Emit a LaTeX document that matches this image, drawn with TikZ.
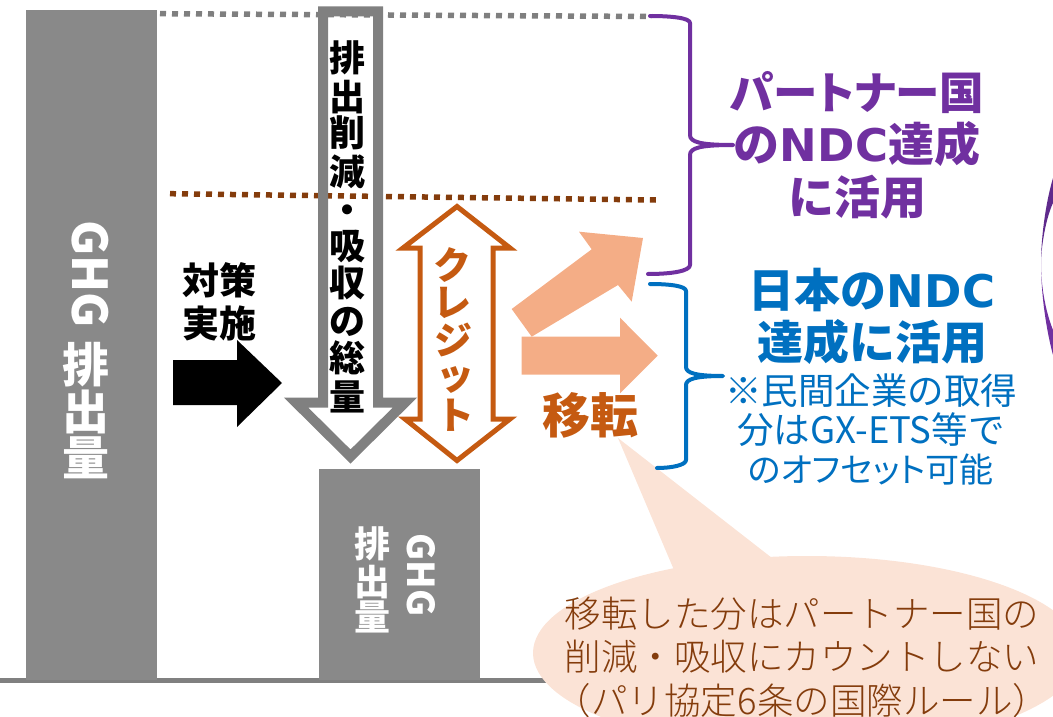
\documentclass[tikz,border=0pt]{standalone}
\usepackage{fontspec}
\setmainfont{Noto Sans CJK JP}
\newfontfamily\lightcjk{Noto Sans CJK JP Light}
\newfontfamily\wide{DejaVu Sans}
\newfontfamily\paltcjk[RawFeature=+palt]{Noto Sans CJK JP}
\definecolor{barg}{HTML}{898989}
\definecolor{arrg}{HTML}{808080}
\definecolor{dotg}{HTML}{7F7F7F}
\definecolor{brn}{HTML}{843C0C}
\definecolor{org}{HTML}{C55A11}
\definecolor{salm}{HTML}{F4AD86}
\definecolor{peach}{HTML}{FBE3D6}
\definecolor{purp}{HTML}{7030A0}
\definecolor{purpd}{HTML}{5F2A8C}
\definecolor{blu}{HTML}{0070C0}
\newcommand{\fs}[1]{\fontsize{#1}{#1}\selectfont}
\newcommand{\ndc}{{\wide\fontsize{45}{52}\selectfont NDC}}
\tikzset{
  x=1pt,y=-1pt,
  lbl/.style={inner sep=0pt,outer sep=0pt,align=center},
  bar/.style={fill=barg,draw=none},
  dots/.style={line width=5.5pt,dash pattern=on 6pt off 6pt},
  brace/.style={line width=4pt,line cap=round,line join=round},
  hollow/.style={line join=miter,miter limit=10},
}
\begin{document}
\begin{tikzpicture}
\useasboundingbox (0,0) rectangle (1053,717);
\clip (0,0) rectangle (1053,717);
% baseline and bars
\fill[arrg] (0,678) rectangle (560,683);
\fill[bar] (26,10) rectangle (157,680);
\fill[bar] (319,469) rectangle (480,680);
% dotted levels
\coordinate (gdA) at (160,13.7);
\coordinate (gdB) at (652,16.5);
\coordinate (bdA) at (170,193.7);
\coordinate (bdB) at (656,200);
\draw[dots,dotg] (gdA) -- (gdB);
\draw[dots,brn] (bdA) -- (bdB);
% reduction arrow
\draw[arrg,line width=10pt,hollow] (323,11.5) -- (323,402.5) -- (296,402.5) -- (350.5,456.5) -- (405,402.5) -- (378,402.5) -- (378,11.5) -- cycle;
% credit arrow
\draw[org,line width=5pt,hollow] (457,206.5) -- (510,248) -- (493,248) -- (493,419) -- (510,419) -- (457,460.5) -- (405,419) -- (420,419) -- (420,248) -- (403,248) -- cycle;
% black arrow
\fill[black] (173,360) -- (237,360) -- (237,340) -- (282,383) -- (237,427) -- (237,405) -- (173,405) -- cycle;
% salmon arrows
\fill[salm] (511.7,309) -- (531.7,336.7) -- (618,285) -- (631.7,301.7) -- (643,238) -- (579,231.7) -- (591.7,249.3) -- cycle;
\fill[salm] (521.7,336.7) -- (620,336.7) -- (620,317.7) -- (657.7,355.7) -- (620,393.3) -- (620,374.7) -- (521.7,374.7) -- cycle;
% callout
\fill[peach] (807,653) ellipse [x radius=274,y radius=97];
\fill[peach] (618,438) -- (674,570) -- (772,558) -- cycle;
% braces
\draw[brace,purp] (650,16) .. controls (672,16) and (690,18) .. (690,23) -- (690,135) .. controls (690,142) and (700,145) .. (733,145) .. controls (700,145) and (690,148) .. (690,155) -- (690,265) .. controls (690,271) and (672,274) .. (648,274);
\draw[brace,blu] (650,284) .. controls (670,284) and (686,286) .. (686,291) -- (686,367) .. controls (686,373) and (696,376) .. (723,376) .. controls (696,376) and (686,379) .. (686,385) -- (686,460) .. controls (686,465) and (672,468) .. (657,468);
% crescent
\fill[purpd] (1053,178) .. controls (1045,205) and (1041,240) .. (1041,263) .. controls (1041,250) and (1045,220) .. (1053,203) -- cycle;
\fill[purp] (1053,355) .. controls (1045,325) and (1041,290) .. (1041,263) .. controls (1041,285) and (1045,310) .. (1053,330) -- cycle;
% left bar label
\node[lbl,rotate=-90,text=white,font=\fs{48}\bfseries] (ghgA) at (90,274) {GHG};
\foreach \c/\y/\n in {排/365/a,出/412/b,量/458/c}
  \node[lbl,text=white,font=\fs{47}\bfseries] (left\n) at (86,\y) {\c};
% lower bar label
\node[lbl,rotate=-90,text=white,font=\fs{37}\bfseries] (ghgB) at (421,575) {GHG};
\foreach \c/\y/\n in {排/544/a,出/582/b,量/617/c}
  \node[lbl,text=white,font=\fs{36}\bfseries] (low\n) at (372.7,\y) {\c};
% reduction stack
\foreach \c/\y/\n in {排/58/a,出/97/b,削/133/c,減/172/d,・/214/e,吸/247/f,収/283/g,の/322/h,総/358/i,量/397/j}
  \node[lbl,font=\fs{36}\bfseries] (red\n) at (347,\y) {\c};
% credit stack
\foreach \c/\y/\x/\n in {ク/265/452/a,レ/303/452/b,ジ/340/453/c,ッ/380/455/d,ト/415/455/e}
  \node[lbl,text=org,font=\fs{38}\bfseries] (cr\n) at (\x,\y) {\c};
% labels
\node[lbl,font=\fontsize{37}{43}\selectfont\bfseries] (taisaku) at (219,302) {対策\\実施};
\node[lbl,text=org,font=\fs{48}\bfseries] (iten) at (590.5,415) {移転};
\node[lbl,text=purp,font=\fontsize{46}{52.5}\selectfont\bfseries] (partner) at (857,145) {{\paltcjk\bfseries\fontsize{44.5}{52.5}\selectfont パートナー国}\\の\ndc 達成\\に活用};
\node[lbl,text=blu,font=\fontsize{46}{52}\selectfont\bfseries] (japan) at (872,316) {日本の\ndc\\達成に活用};
\node[lbl,text=blu,font=\fontsize{36.5}{39}\selectfont] (note) at (871,429) {※民間企業の取得\\分はGX-ETS等で\\{\paltcjk\fontsize{34}{39}\selectfont のオフセット可能}};
\node[lbl,text=brn,font=\fontsize{36.5}{43.5}\selectfont\lightcjk] (rule) at (802,657) {移転した分はパートナー国の\\削減・吸収にカウントしない\\（パリ協定6条の国際ルール）};
\end{tikzpicture}
\end{document}
